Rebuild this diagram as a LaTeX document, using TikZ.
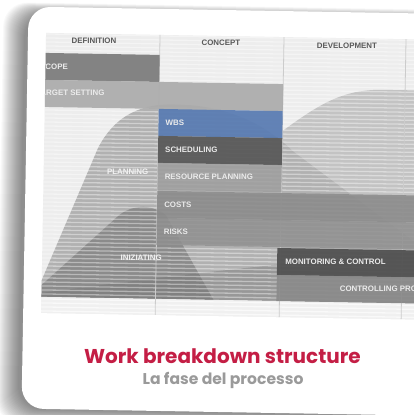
\documentclass[tikz,border=0pt]{standalone}
\usepackage{fontspec}
\newfontfamily\lab{Liberation Sans}
\newfontfamily\ttl{Poppins}
\definecolor{crim}{HTML}{C41E45}
\definecolor{subg}{HTML}{9A9A9A}
\definecolor{wbsblue}{HTML}{5B7DB3}
\begin{document}
\begin{tikzpicture}[x=1pt,y=-1pt,
  barlab/.style={font=\lab\bfseries\fontsize{7.9}{8}\selectfont, text=white!92!black, anchor=west, inner sep=0pt},
  headlab/.style={font=\lab\bfseries\fontsize{7.9}{8}\selectfont, text=black!65, inner sep=0pt},
  arealab/.style={font=\lab\bfseries\fontsize{7.9}{8}\selectfont, text=white!95!black, inner sep=0pt},
  colline/.style={draw=black!20, line width=0.8pt}]
\useasboundingbox (0,0) rectangle (413,415);
\fill[white] (0,0) rectangle (413,415);
\begin{scope}[rotate around={-1:(220,210)}]
  % shadow
  \foreach \i in {1,...,22}
    \fill[black, opacity=0.022, rounded corners=24] (25-\i-3,10-0.5*\i+7) rectangle (470,412+0.7*\i);
  % card
  \fill[white, rounded corners=22] (25,10) rectangle (470,412);
  % chart
  \begin{scope}
    \clip (43,36) rectangle (470,316);
    \fill[black!7] (43,36) rectangle (470,316);
    % areas
    \fill[black!38, opacity=0.75] (43,300) -- (43,283) -- (97,150)
       .. controls (112,120) and (135,106) .. (170,105)
       .. controls (225,105) and (262,122) .. (292,150) -- (470,278) -- (470,300) -- cycle;
    \fill[black!30, opacity=0.7] (281,300) -- (281,130)
       .. controls (318,102) and (340,88) .. (378,87) -- (470,87) -- (470,300) -- cycle;
    \fill[black!55, opacity=0.6] (43,300) -- (43,288) -- (118,218)
       .. controls (130,207) and (150,204) .. (166,216) -- (215,300) -- cycle;
    \fill[black!55, opacity=0.4] (43,300) -- (43,296)
       .. controls (150,280) and (260,264) .. (470,242) -- (470,300) -- cycle;
    % stripes
    \foreach \yy in {37,41,...,315}
      \draw[white, opacity=0.4, line width=1.3pt] (43,\yy) -- (470,\yy);
    % bottom band
    \fill[black!6] (43,300) rectangle (470,316);
    \foreach \yy in {302,306,...,315}
      \draw[white, opacity=0.6, line width=1.3pt] (43,\yy) -- (470,\yy);
    % column lines
    \draw[colline] (157,36) -- (157,316);
    \draw[colline] (281,36) -- (281,316);
    \draw[colline] (403,36) -- (403,316);
    % bars
    \fill[black!52, opacity=0.92] (43,56) rectangle (157,83);
    \fill[black!33, opacity=0.92] (43,83) rectangle (281,110);
    \fill[wbsblue, opacity=0.95] (157,110) rectangle (281,137);
    \fill[black!66, opacity=0.92] (157,137) rectangle (281,164);
    \fill[black!38, opacity=0.85] (157,164) rectangle (281,191);
    \fill[black!46, opacity=0.88] (157,192) rectangle (470,219);
    \fill[black!44, opacity=0.85] (157,219) rectangle (470,246);
    \fill[black!68, opacity=0.95] (278,247) rectangle (470,274);
    \fill[black!46, opacity=0.92] (278,274) rectangle (470,300);
    % labels
    \node[barlab] (scope) at (37.5,69.5) {SCOPE};
    \node[barlab] (target) at (34,96.5) {TARGET SETTING};
    \node[barlab] (wbs) at (164,124) {WBS};
    \node[barlab] (sched) at (164,151) {SCHEDULING};
    \node[barlab] (resp) at (164,178) {RESOURCE PLANNING};
    \node[barlab] (costs) at (164,205.5) {COSTS};
    \node[barlab] (risks) at (164,232.5) {RISKS};
    \node[barlab] (monit) at (286,260.5) {MONITORING \& CONTROL};
    \node[barlab] (ctrlp) at (341,287) {CONTROLLING PROCESS};
    \node[arealab] (plan) at (127,173) {PLANNING};
    \node[arealab] (iniz) at (142,259) {INIZIATING};
    \node[headlab] (hdef) at (91,43) {DEFINITION};
    \node[headlab] (hcon) at (218,43) {CONCEPT};
    \node[headlab] (hdev) at (344,44) {DEVELOPMENT};
  \end{scope}
  % title
  \node[font=\ttl\bfseries\fontsize{20}{22}\selectfont, text=crim, inner sep=0pt] (title) at (225,356) {Work breakdown structure};
  \node[font=\ttl\bfseries\fontsize{15.6}{17}\selectfont, text=subg, inner sep=0pt] (sub) at (226,380.5) {La fase del processo};
\end{scope}
\end{tikzpicture}
\end{document}
